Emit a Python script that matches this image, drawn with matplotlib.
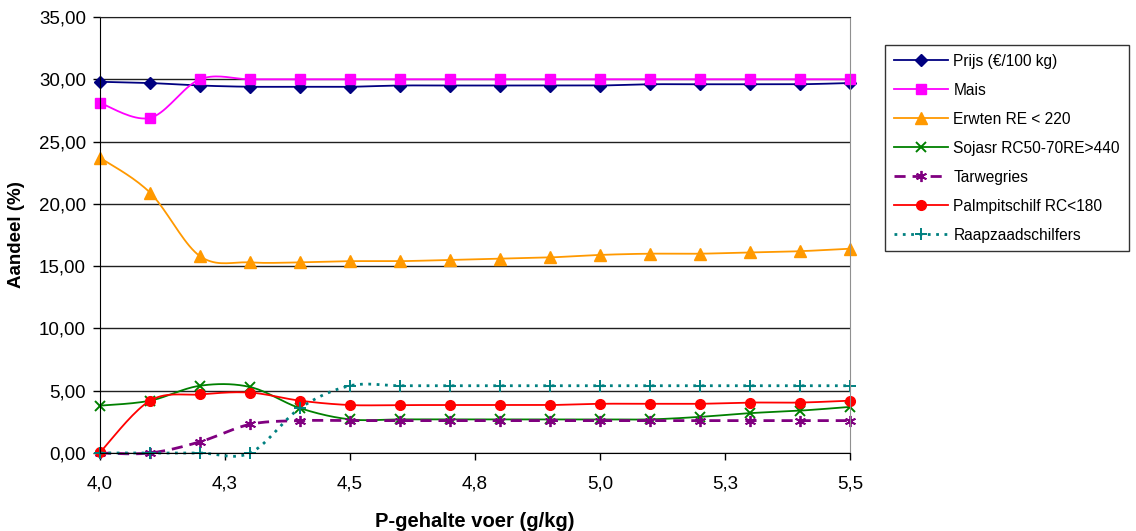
import numpy as np
import matplotlib
matplotlib.use("Agg")
import matplotlib.pyplot as plt
from matplotlib.ticker import FixedLocator, FuncFormatter

plt.rcParams["font.family"] = ["Liberation Sans", "DejaVu Sans"]

# P-gehalte voer (g/kg)
p_gehalte = [4.0, 4.1, 4.2, 4.3, 4.4, 4.5, 4.6, 4.7, 4.8, 4.9, 5.0, 5.1, 5.2, 5.3, 5.4, 5.5]

prijs = [29.8, 29.7, 29.5, 29.4, 29.4, 29.4, 29.5, 29.5, 29.5, 29.5, 29.5, 29.6, 29.6, 29.6, 29.6, 29.7]
mais = [28.1, 26.9, 30.0, 30.0, 30.0, 30.0, 30.0, 30.0, 30.0, 30.0, 30.0, 30.0, 30.0, 30.0, 30.0, 30.0]
erwten = [23.7, 20.9, 15.8, 15.3, 15.3, 15.4, 15.4, 15.5, 15.6, 15.7, 15.9, 16.0, 16.0, 16.1, 16.2, 16.4]
sojasr = [3.8, 4.2, 5.4, 5.3, 3.6, 2.7, 2.7, 2.7, 2.7, 2.7, 2.7, 2.7, 2.9, 3.2, 3.4, 3.7]
tarwegries = [0.0, 0.0, 0.9, 2.3, 2.6, 2.6, 2.6, 2.6, 2.6, 2.6, 2.6, 2.6, 2.6, 2.6, 2.6, 2.6]
palmpit = [0.05, 4.2, 4.7, 4.85, 4.2, 3.85, 3.85, 3.85, 3.85, 3.85, 3.95, 3.95, 3.95, 4.05, 4.05, 4.2]
raapzaad = [0.0, 0.0, 0.0, 0.0, 3.6, 5.4, 5.4, 5.4, 5.4, 5.4, 5.4, 5.4, 5.4, 5.4, 5.4, 5.4]

labels = [
    "Prijs (€/100 kg)",
    "Mais",
    "Erwten RE < 220",
    "Sojasr RC50-70RE>440",
    "Tarwegries",
    "Palmpitschilf RC<180",
    "Raapzaadschilfers",
]

x_ticks = [4.0, 4.25, 4.5, 4.75, 5.0, 5.25, 5.5]
x_tick_labels = ["4,0", "4,3", "4,5", "4,8", "5,0", "5,3", "5,5"]


def smooth(x, y, n=20):
    # Excel-style smoothing (Catmull-Rom bezier through the points)
    x = np.asarray(x, float)
    y = np.asarray(y, float)
    px = np.concatenate([[x[0]], x, [x[-1]]])
    py = np.concatenate([[y[0]], y, [y[-1]]])
    t = np.linspace(0, 1, n)[:, None]
    xs, ys = [], []
    for i in range(1, len(x)):
        p0 = np.array([px[i - 1], py[i - 1]])
        p1 = np.array([px[i], py[i]])
        p2 = np.array([px[i + 1], py[i + 1]])
        p3 = np.array([px[i + 2], py[i + 2]])
        c1 = p1 + (p2 - p0) / 6
        c2 = p2 - (p3 - p1) / 6
        pts = ((1 - t) ** 3) * p1 + 3 * ((1 - t) ** 2) * t * c1 + 3 * (1 - t) * t ** 2 * c2 + t ** 3 * p2
        xs.extend(pts[:, 0])
        ys.extend(pts[:, 1])
    return np.array(xs), np.array(ys)


fig = plt.figure(figsize=(11.36, 5.31), dpi=100)
ax = fig.add_axes([100 / 1136, 78 / 531, 750 / 1136, 436 / 531])

series = [
    (prijs, dict(color="#000080", marker="D", ms=6.5, ls="-", lw=1.3)),
    (mais, dict(color="#FF00FF", marker="s", ms=7, ls="-", lw=1.3)),
    (erwten, dict(color="#FF9900", marker="^", ms=8, ls="-", lw=1.3)),
    (sojasr, dict(color="#008000", marker="x", ms=7, mew=1.4, ls="-", lw=1.3)),
    (tarwegries, dict(color="#800080", marker=(6, 2, 0), ms=8, mew=1.3, ls=(0, (4, 2.5)), lw=2)),
    (palmpit, dict(color="#FF0000", marker="o", ms=7, ls="-", lw=1.3)),
    (raapzaad, dict(color="#008080", marker="+", ms=8, mew=1.4, ls=(0, (1, 2)), lw=2)),
]

handles = []
for (vals, st), lab in zip(series, labels):
    sx, sy = smooth(p_gehalte, vals)
    ax.plot(sx, sy, color=st["color"], ls=st["ls"], lw=st["lw"], clip_on=False)
    ax.plot(p_gehalte, vals, ls="none", color=st["color"], marker=st["marker"],
            ms=st["ms"], mew=st.get("mew", 1), clip_on=False)
    h, = ax.plot([], [], color=st["color"], ls=st["ls"], lw=st["lw"], marker=st["marker"],
                 ms=st["ms"], mew=st.get("mew", 1))
    handles.append(h)

ax.set_xlim(4.0, 5.5)
ax.set_ylim(0, 35)
ax.xaxis.set_major_locator(FixedLocator(x_ticks))
ax.set_xticklabels(x_tick_labels)
ax.set_yticks(np.arange(0, 36, 5))
ax.yaxis.set_major_formatter(FuncFormatter(lambda v, p: f"{v:.2f}".replace(".", ",")))
ax.tick_params(axis="both", direction="out", length=5, width=1, labelsize=13.5, color="black")
ax.tick_params(axis="x", pad=11)
ax.tick_params(axis="y", pad=5)

ax.grid(axis="y", color="#202020", lw=1)
ax.set_axisbelow(True)
ax.spines["left"].set_color("black")
ax.spines["bottom"].set_color("black")
ax.spines["right"].set_color("#909090")
ax.spines["top"].set_color("#202020")

ax.set_xlabel("P-gehalte voer (g/kg)", fontsize=14.5, fontweight="bold", labelpad=14)
ax.set_ylabel("Aandeel (%)", fontsize=13.5, fontweight="bold", labelpad=10)

leg = fig.legend(handles, labels, loc="upper left", bbox_to_anchor=(885 / 1136, 1 - 45 / 531),
                 borderaxespad=0, fontsize=11.2, frameon=True, fancybox=False, edgecolor="black",
                 handlelength=3.5, numpoints=1, labelspacing=0.9, borderpad=0.55,
                 handletextpad=0.35)
leg.get_frame().set_linewidth(1)

fig.savefig("out.png", dpi=100)
